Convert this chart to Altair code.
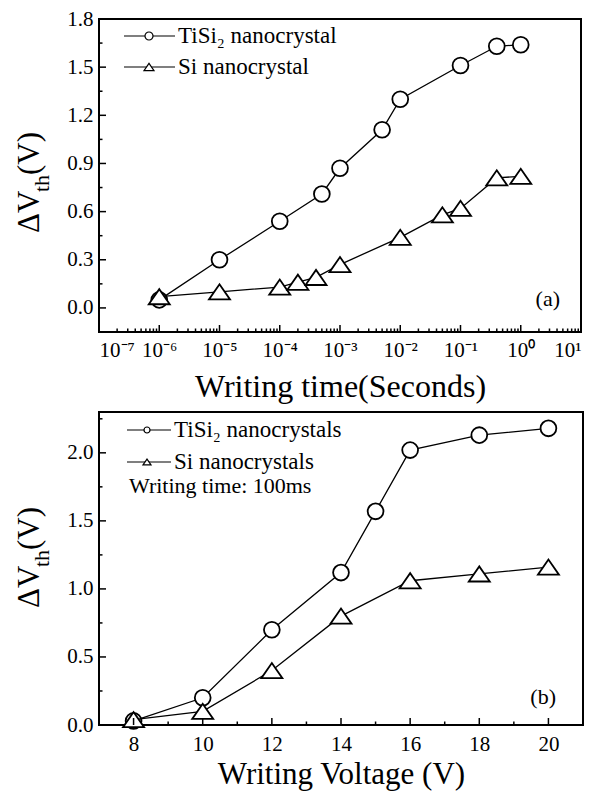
import json
import altair as alt
import pandas as pd

FONT = "Liberation Serif"

# ---------------- Panel (a): writing time ----------------
time_tisi = [1e-6, 1e-5, 1e-4, 5e-4, 1e-3, 5e-3, 1e-2, 1e-1, 0.4, 1.0]
dvth_tisi_a = [0.05, 0.30, 0.54, 0.71, 0.87, 1.11, 1.30, 1.51, 1.63, 1.64]
time_si = [1e-6, 1e-5, 1e-4, 2e-4, 4e-4, 1e-3, 1e-2, 5e-2, 1e-1, 0.4, 1.0]
dvth_si_a = [0.07, 0.10, 0.13, 0.16, 0.19, 0.27, 0.44, 0.58, 0.62, 0.81, 0.82]

a_x_major = [1e-7, 1e-6, 1e-5, 1e-4, 1e-3, 1e-2, 1e-1, 1e0, 1e1]
a_x_labels = ["10⁻⁷", "10⁻⁶", "10⁻⁵", "10⁻⁴", "10⁻³", "10⁻²", "10⁻¹", "10⁰", "10¹"]
a_x_minor = [m * 10.0 ** e for e in range(-7, 1) for m in range(2, 10)]
a_y_major = [0.0, 0.3, 0.6, 0.9, 1.2, 1.5, 1.8]
a_y_minor = [0.15, 0.45, 0.75, 1.05, 1.35, 1.65]

a_legend = ["TiSi₂ nanocrystal", "Si nanocrystal"]

# ---------------- Panel (b): writing voltage ----------------
volt_tisi = [8, 10, 12, 14, 15, 16, 18, 20]
dvth_tisi_b = [0.03, 0.20, 0.70, 1.12, 1.57, 2.02, 2.13, 2.18]
volt_si = [8, 10, 12, 14, 16, 18, 20]
dvth_si_b = [0.04, 0.10, 0.40, 0.80, 1.06, 1.11, 1.16]

b_x_major = [8, 10, 12, 14, 16, 18, 20]
b_x_minor = [9, 11, 13, 15, 17, 19]
b_y_major = [0.0, 0.5, 1.0, 1.5, 2.0]
b_y_minor = [0.25, 0.75, 1.25, 1.75, 2.25]

b_legend = ["TiSi₂ nanocrystals", "Si nanocrystals", "Writing time: 100ms"]

TRI = "M-1,0.72L1,0.72L0,-0.72Z"


def one():
    return alt.Data(values=[{"k": 0}])


def text(t, x, y, size, angle=0, align="left", baseline="middle"):
    kw = dict(text=t, font=FONT, fontSize=size, color="black", align=align, baseline=baseline)
    if angle:
        kw["angle"] = angle
    return alt.Chart(one()).mark_text(**kw).encode(x=alt.value(x), y=alt.value(y))


def panel(series, xenc, yenc, x_major, x_minor, y_major, y_minor, W, H,
          legend_rows, title_y, tag):
    layers = []
    for xs, ys, shape, size in series:
        df = pd.DataFrame({"x": xs, "y": ys})
        base = alt.Chart(df).encode(x=xenc(), y=yenc())
        layers.append(base.mark_line(color="black", strokeWidth=1.3))
        layers.append(base.mark_point(shape=shape, size=size, filled=True, fill="white",
                                      stroke="black", strokeWidth=1.8, opacity=1))
    for vals, ln in ((x_major, 7), (x_minor, 3.5)):
        layers.append(alt.Chart(pd.DataFrame({"x": vals})).mark_rule(color="black", strokeWidth=1.5)
                      .encode(x=xenc(), y=alt.value(H), y2=alt.value(H - ln)))
    for vals, ln in ((y_major, 7), (y_minor, 3.5)):
        layers.append(alt.Chart(pd.DataFrame({"y": vals})).mark_rule(color="black", strokeWidth=1.5)
                      .encode(y=yenc(), x=alt.value(0), x2=alt.value(ln)))
    for item in legend_rows:
        kind, label, y, x0, x1, xm, xt, msize, fs = item
        if kind is not None:
            layers.append(alt.Chart(one()).mark_rule(color="black", strokeWidth=1.2)
                          .encode(x=alt.value(x0), x2=alt.value(x1), y=alt.value(y)))
            layers.append(alt.Chart(one()).mark_point(shape=kind, size=msize, filled=True, fill="white",
                                                      stroke="black", strokeWidth=1.2, opacity=1)
                          .encode(x=alt.value(xm), y=alt.value(y)))
        layers.append(text(label, xt, y, fs))
    tx, ty = title_y
    layers.append(text("ΔV", tx, ty, 31, angle=270, baseline="alphabetic"))
    layers.append(text("th", tx + 10, ty - 41, 22, angle=270, baseline="alphabetic"))
    layers.append(text("(V)", tx, ty - 58, 31, angle=270, baseline="alphabetic"))
    layers.append(text(tag[0], tag[1], tag[2], 22, align="right"))
    return alt.layer(*layers).properties(width=W, height=H)


def axis_common(**kw):
    return alt.Axis(ticks=False, domain=False, grid=False, labelFont=FONT, labelColor="black",
                    titleFont=FONT, titleColor="black", titleFontWeight="normal", **kw)


a_label_expr = json.dumps(a_x_labels, ensure_ascii=False) + "[round(log(datum.value)/LN10)+7]"


def ax_x():
    return alt.X("x:Q", scale=alt.Scale(type="log", domain=[1e-7, 10], nice=False),
                 axis=axis_common(values=a_x_major, labelExpr=a_label_expr, labelFontSize=21,
                                  labelPadding=7, title="Writing time(Seconds)", titleFontSize=32,
                                  titlePadding=11))


def ax_y():
    return alt.Y("y:Q", scale=alt.Scale(domain=[-0.15, 1.8], nice=False, zero=False),
                 axis=axis_common(values=a_y_major, format=".1f", labelFontSize=21, labelPadding=6,
                                  title=None))


def bx_x():
    return alt.X("x:Q", scale=alt.Scale(domain=[7, 21], nice=False, zero=False),
                 axis=axis_common(values=b_x_major, format="d", labelFontSize=21, labelPadding=8,
                                  title="Writing Voltage (V)", titleFontSize=31, titlePadding=5))


def bx_y():
    return alt.Y("y:Q", scale=alt.Scale(domain=[0, 2.3], nice=False),
                 axis=axis_common(values=b_y_major, format=".1f", labelFontSize=21, labelPadding=6,
                                  title=None))


top = panel(
    [(time_tisi, dvth_tisi_a, "circle", 250), (time_si, dvth_si_a, TRI, 441)],
    ax_x, ax_y, a_x_major, a_x_minor, a_y_major, a_y_minor, 482, 313,
    [("circle", a_legend[0], 17, 25, 76, 50, 79, 64, 23),
     (TRI, a_legend[1], 48, 25, 76, 50, 79, 100, 23)],
    (-60, 214), ("(a)", 461, 280),
)

bottom = panel(
    [(volt_tisi, dvth_tisi_b, "circle", 250), (volt_si, dvth_si_b, TRI, 441)],
    bx_x, bx_y, b_x_major, b_x_minor, b_y_major, b_y_minor, 484, 313,
    [("circle", b_legend[0], 18, 28, 72, 48, 75, 36, 23),
     (TRI, b_legend[1], 50, 28, 72, 48, 75, 64, 23),
     (None, b_legend[2], 74, 0, 0, 0, 30, 0, 22)],
    (-60, 196), ("(b)", 457, 285),
)

chart = alt.vconcat(top, bottom, spacing=8).properties(
    padding={"left": 13, "top": 7, "right": 5, "bottom": 1}, background="white"
).configure_view(stroke="black", strokeWidth=2)

chart.save("out.html", embed_options={"renderer": "svg", "actions": False})
